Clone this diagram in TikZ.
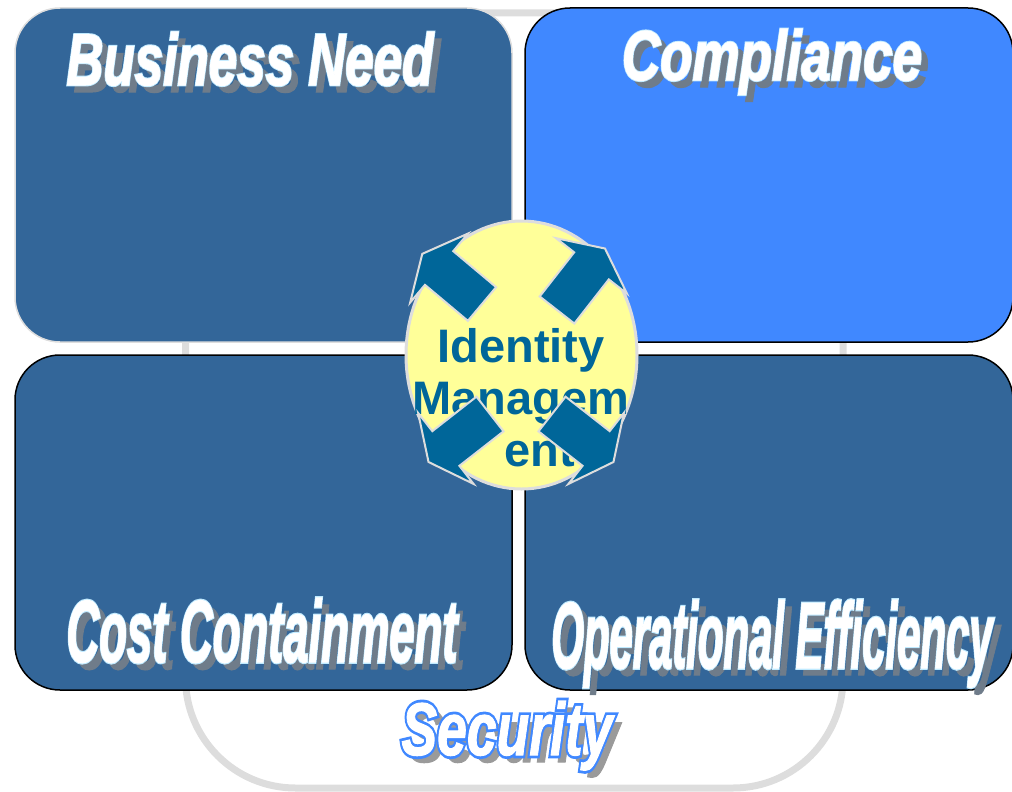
\documentclass[tikz,border=0pt]{standalone}
\usepackage{fontspec}
\setmainfont{Liberation Sans}
\newfontface\artface{Liberation Sans Bold Italic}[FakeBold=1.5]
\newfontface\artedge{Liberation Sans Bold Italic}[FakeBold=4]
\newfontface\artedgebold{Liberation Sans Bold Italic}[FakeBold=9]
\usepackage{graphicx}
\usetikzlibrary{shapes.geometric}
\definecolor{imBlue}{HTML}{336699}
\definecolor{imBright}{HTML}{4088FF}
\definecolor{imTeal}{HTML}{006699}
\definecolor{imYellow}{HTML}{FFFF99}
\definecolor{imFrame}{HTML}{DDDDDD}
\definecolor{imShadow}{HTML}{6F7C8A}
\definecolor{imShadowLt}{HTML}{9A9A9A}
\definecolor{imEdge}{HTML}{BFEAFF}
% lettering with a drop shadow, an edge and a white face
\newcommand\artlayer[4]{% font, colour, width, height (text in \arttext)
  \resizebox{#3}{#4}{\color{#2}#1\arttext}}
\newcommand\wordart[6][imShadow]{% shadow, width, height, edge colour, edge font, text
  \def\arttext{#6}%
  \rlap{\hspace*{7pt}\raisebox{-7pt}{\artlayer{\artface}{#1}{#2}{#3}}}%
  \rlap{\artlayer{#5}{#4}{#2}{#3}}%
  \artlayer{\artface}{white}{#2}{#3}}
\tikzset{
  frame/.style={draw=imFrame, line width=7pt, rounded corners=110pt},
  panel/.style={rectangle, rounded corners=45pt, fill=imBlue, draw=black,
              line width=1.5pt, inner sep=0pt},
  title/.style={inner sep=0pt, anchor=base},
  hubstyle/.style={ellipse, fill=imYellow, draw=imFrame, line width=3pt, inner sep=0pt},
  idtext/.style={inner sep=0pt, align=center, text=imTeal,
              font=\fontsize{47}{52}\selectfont\bfseries},
  idarrow/.style={fill=imTeal, draw=imFrame, line width=2pt, line join=miter},
}
\begin{document}
\begin{tikzpicture}[x=1pt,y=-1pt]
  \useasboundingbox (0,0) rectangle (1012,792);
  % outer security ring
  \draw[frame] (185.5,13) rectangle (843,788);

  % the four quadrants
  \node[panel, draw=imFrame, minimum width=497pt, minimum height=334pt]
        (need) at (263.5,175) {};
  \node[panel, fill=imBright, minimum width=488pt, minimum height=334pt]
        (comply) at (769,175) {};
  \node[panel, minimum width=497pt, minimum height=335pt] (cost) at (263.5,522.5) {};
  \node[panel, minimum width=488pt, minimum height=335pt] (ops) at (769,522.5) {};

  \node[title] (needtxt) at (250,85) {\wordart{367pt}{53pt}{imEdge}{\artedge}{Business Need}};
  \node[title] (complytxt) at (772,80) {\wordart{300pt}{51pt}{imEdge}{\artedge}{Compliance}};
  \node[title] (costtxt) at (262,662) {\wordart{391pt}{64pt}{imEdge}{\artedge}{Cost Containment}};
  \node[title] (opstxt) at (772,668) {\wordart{441pt}{68pt}{imEdge}{\artedge}{Operational Efficiency}};

  % identity management hub
  \node[hubstyle, minimum width=231pt, minimum height=268pt] (hub) at (521.5,355) {};
  \node[idtext] (idm) at (521,398) {Identity\\Managem\\\hspace*{38pt}ent};
  \foreach \ax/\ay/\ang in {482/304/140, 557/310/52, 490/414/218, 552/414/322}
    \draw[idarrow, shift={(\ax,\ay)}, rotate=\ang]
      (0,-22) -- (56,-22) -- (56,-45) -- (78,0) -- (56,45) -- (56,22) -- (0,22) -- cycle;

  \node[title] (sectxt) at (507,755)
        {\wordart[imShadowLt]{211pt}{54pt}{imBright}{\artedgebold}{Security}};
\end{tikzpicture}
\end{document}
